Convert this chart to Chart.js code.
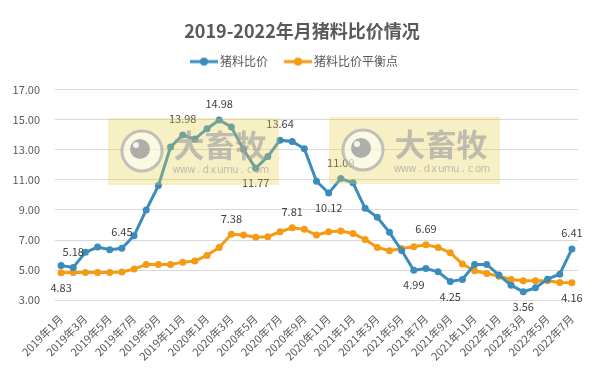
<!DOCTYPE html>
<html>
<head>
<meta charset="utf-8">
<script src="https://cdn.jsdelivr.net/npm/chart.js@4.4.1/dist/chart.umd.min.js"></script>
<style>
  html, body { margin: 0; padding: 0; background: #fff; }
</style>
</head>
<body>
<canvas id="ratioChart" width="601" height="375"></canvas>
<script>
// 月份: 2019年1月 ~ 2022年7月
const months = [];
for (let y = 2019; y <= 2022; y++) {
    for (let m = 1; m <= 12; m++) {
        if (y === 2022 && m > 7) break;
        months.push(y + "年" + m + "月");
    }
}

// 猪料比价
const ratio = [5.30, 5.18, 6.18, 6.53, 6.35, 6.45, 7.29, 9.00, 10.62, 13.18, 13.98, 13.71,
    14.40, 14.98, 14.51, 13.02, 11.77, 12.56, 13.64, 13.55, 13.07, 10.91, 10.12, 11.09,
    10.80, 9.11, 8.51, 7.51, 6.30, 4.99, 5.10, 4.89, 4.25, 4.38, 5.38, 5.38,
    4.67, 4.00, 3.56, 3.82, 4.40, 4.73, 6.41];

// 猪料比价平衡点
const balance = [4.83, 4.85, 4.85, 4.85, 4.85, 4.87, 5.07, 5.38, 5.38, 5.38, 5.53, 5.60,
    5.98, 6.51, 7.38, 7.33, 7.18, 7.22, 7.55, 7.81, 7.71, 7.33, 7.55, 7.60,
    7.44, 7.04, 6.51, 6.29, 6.44, 6.56, 6.69, 6.51, 6.16, 5.40, 4.96, 4.78,
    4.60, 4.38, 4.29, 4.29, 4.29, 4.18, 4.16];

// which points carry a value label
const ratioLabelsAbove = [1, 5, 10, 13, 18, 23, 42];
const ratioLabelsBelow = [16, 22, 29, 32, 38];
const balanceLabelsAbove = [14, 19, 30];
const balanceLabelsBelow = [0, 42];

const blue = "#3b8cbd";
const orange = "#f59a12";

Chart.defaults.font.family = '"Noto Sans CJK SC", "Noto Sans", sans-serif';

function legendIcon(color) {
    const c = document.createElement("canvas");
    c.width = 28;
    c.height = 10;
    const g = c.getContext("2d");
    g.strokeStyle = color;
    g.lineWidth = 3;
    g.beginPath();
    g.moveTo(0, 5);
    g.lineTo(28, 5);
    g.stroke();
    g.fillStyle = color;
    g.beginPath();
    g.arc(14, 5, 4, 0, Math.PI * 2);
    g.fill();
    return c;
}

// leave some room under the legend
const legendGap = {
    id: "legendGap",
    afterInit(chart) {
        const fit = chart.legend.fit;
        chart.legend.fit = function () {
            fit.call(this);
            this.height += 12;
        };
    }
};

const valueLabels = {
    id: "valueLabels",
    afterDatasetsDraw(chart) {
        const ctx = chart.ctx;
        const sets = [
            [0, ratioLabelsAbove, ratioLabelsBelow],
            [1, balanceLabelsAbove, balanceLabelsBelow]
        ];
        ctx.save();
        ctx.font = '11px "Noto Sans CJK SC"';
        ctx.fillStyle = "#404040";
        ctx.textAlign = "center";
        ctx.textBaseline = "middle";
        sets.forEach(([d, above, below]) => {
            const meta = chart.getDatasetMeta(d);
            const values = chart.data.datasets[d].data;
            above.forEach(i => {
                const p = meta.data[i];
                ctx.fillText(values[i].toFixed(2), p.x, p.y - 16);
            });
            below.forEach(i => {
                const p = meta.data[i];
                ctx.fillText(values[i].toFixed(2), p.x, p.y + 15);
            });
        });
        ctx.restore();
    }
};

// 大畜牧 watermark boxes
const watermarks = [{ x: 108, y: 118 }, { x: 329, y: 117 }];

function drawMark(ctx, x, y) {
    ctx.save();
    ctx.fillStyle = "rgba(228, 208, 70, 0.32)";
    ctx.fillRect(x, y, 171, 67);

    const cx = x + 34, cy = y + 33;
    ctx.beginPath();
    ctx.arc(cx, cy, 20, 0, Math.PI * 2);
    ctx.fillStyle = "rgba(255, 255, 255, 0.55)";
    ctx.fill();
    ctx.lineWidth = 3;
    ctx.strokeStyle = "rgba(175, 175, 175, 0.75)";
    ctx.stroke();
    ctx.beginPath();
    ctx.arc(cx - 2, cy - 2, 10, 0, Math.PI * 2);
    ctx.fillStyle = "rgba(150, 150, 150, 0.75)";
    ctx.fill();
    ctx.beginPath();
    ctx.arc(cx - 6, cy - 6, 3, 0, Math.PI * 2);
    ctx.fillStyle = "rgba(255, 255, 255, 0.85)";
    ctx.fill();

    ctx.fillStyle = "rgba(160, 160, 160, 0.65)";
    ctx.textAlign = "center";
    ctx.textBaseline = "middle";
    ctx.font = 'bold 31px "Noto Sans CJK SC"';
    ctx.fillText("大畜牧", x + 112, y + 27);

    ctx.font = '10px "DejaVu Sans"';
    const url = "www.dxumu.com";
    const step = 95 / url.length;
    for (let k = 0; k < url.length; k++) {
        ctx.fillText(url[k], x + 65 + step * (k + 0.5), y + 52);
    }
    ctx.restore();
}

const watermark = {
    id: "watermark",
    afterDraw(chart) {
        watermarks.forEach(w => drawMark(chart.ctx, w.x, w.y));
    }
};

new Chart(document.getElementById("ratioChart").getContext("2d"), {
    type: "line",
    data: {
        labels: months,
        datasets: [
            {
                label: "猪料比价",
                data: ratio,
                borderColor: blue,
                backgroundColor: blue,
                pointBackgroundColor: blue,
                borderWidth: 3,
                pointRadius: 3.5,
                pointBorderWidth: 0,
                tension: 0
            },
            {
                label: "猪料比价平衡点",
                data: balance,
                borderColor: orange,
                backgroundColor: orange,
                pointBackgroundColor: orange,
                borderWidth: 3,
                pointRadius: 3.5,
                pointBorderWidth: 0,
                tension: 0
            }
        ]
    },
    options: {
        responsive: false,
        animation: false,
        layout: { padding: { left: 11, right: 8, top: 0, bottom: 8 } },
        plugins: {
            title: {
                display: true,
                text: "2019-2022年月猪料比价情况",
                color: "#595959",
                font: { size: 18, weight: "bold" },
                padding: { top: 20, bottom: -6 }
            },
            legend: {
                labels: {
                    usePointStyle: true,
                    pointStyleWidth: 20,
                    padding: 20,
                    color: "#595959",
                    font: { size: 12 },
                    generateLabels(chart) {
                        const items = Chart.defaults.plugins.legend.labels.generateLabels(chart);
                        items.forEach((it, i) => {
                            it.pointStyle = legendIcon(i === 0 ? blue : orange);
                            if (i === items.length - 1) it.text += "\u3000";
                        });
                        return items;
                    }
                }
            },
            tooltip: { enabled: false }
        },
        scales: {
            x: {
                offset: true,
                grid: { display: false },
                border: { display: false },
                afterFit(scale) {
                    scale.paddingLeft = 0;
                    scale.paddingRight = 23;
                },
                ticks: {
                    autoSkip: false,
                    minRotation: 45,
                    maxRotation: 45,
                    padding: 4,
                    color: "#595959",
                    font: { size: 11 },
                    callback: (v, i) => (i % 2 === 0 ? months[i] : null)
                }
            },
            y: {
                min: 3,
                max: 17,
                grid: { color: "#d9d9d9", drawTicks: false },
                border: { display: false },
                afterFit(scale) {
                    scale.width = 44;
                },
                ticks: {
                    stepSize: 2,
                    padding: 15,
                    color: "#595959",
                    font: { size: 11 },
                    callback: v => v.toFixed(2)
                }
            }
        }
    },
    plugins: [legendGap, valueLabels, watermark]
});
</script>
</body>
</html>
